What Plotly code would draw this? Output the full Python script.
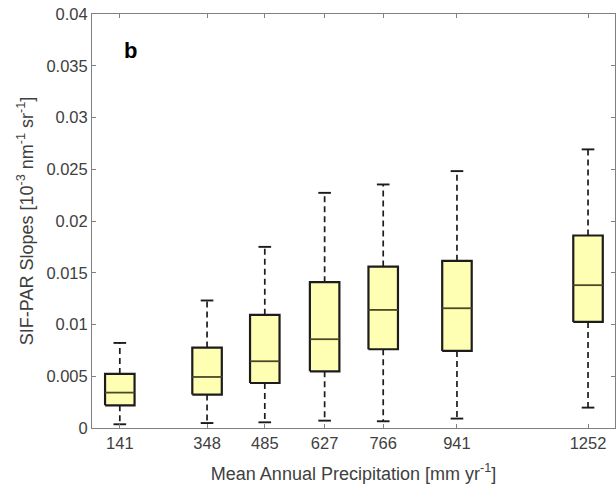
import plotly.graph_objects as go

# Data
precip = [141, 348, 485, 627, 766, 941, 1252]
lower_whisker = [0.00036, 0.00048, 0.00055, 0.00071, 0.00065, 0.00091, 0.00197]
q1 = [0.00219, 0.00323, 0.00435, 0.00548, 0.00761, 0.00745, 0.01025]
median = [0.00342, 0.00493, 0.00645, 0.00858, 0.01141, 0.01157, 0.01380]
q3 = [0.00522, 0.00777, 0.01093, 0.01409, 0.01560, 0.01615, 0.01860]
upper_whisker = [0.00822, 0.01232, 0.01750, 0.02272, 0.02353, 0.02482, 0.02692]

y_ticks = [0, 0.005, 0.01, 0.015, 0.02, 0.025, 0.03, 0.035, 0.04]
y_ticktext = ["0", "0.005", "0.01", "0.015", "0.02", "0.025", "0.03", "0.035", "0.04"]
x_ticktext = [str(p) for p in precip]

BOX_HALF = 35
CAP_HALF = 15
FONT = "Liberation Sans, Arial, sans-serif"
TXT = "#404040"
EDGE = "#1c1c1c"
MED = "#4a4a28"
FILL = "#ffffb4"
FS_TICK = 16.5
FS_TITLE = 18

fig = go.Figure()

for i, x in enumerate(precip):
    # whiskers (dashed)
    fig.add_trace(go.Scatter(
        x=[x, x, None, x, x],
        y=[q3[i], upper_whisker[i], None, q1[i], lower_whisker[i]],
        mode="lines", line=dict(color=EDGE, width=1.7, dash="6px,4px"),
        hoverinfo="skip", showlegend=False))
    # caps
    fig.add_trace(go.Scatter(
        x=[x - CAP_HALF, x + CAP_HALF, None, x - CAP_HALF, x + CAP_HALF],
        y=[upper_whisker[i], upper_whisker[i], None, lower_whisker[i], lower_whisker[i]],
        mode="lines", line=dict(color=EDGE, width=1.9),
        hoverinfo="skip", showlegend=False))
    # box
    fig.add_trace(go.Scatter(
        x=[x - BOX_HALF, x + BOX_HALF, x + BOX_HALF, x - BOX_HALF, x - BOX_HALF],
        y=[q1[i], q1[i], q3[i], q3[i], q1[i]],
        mode="lines", fill="toself", fillcolor=FILL,
        line=dict(color=EDGE, width=2.2),
        hoverinfo="skip", showlegend=False))
    # median
    fig.add_trace(go.Scatter(
        x=[x - BOX_HALF, x + BOX_HALF], y=[median[i], median[i]],
        mode="lines", line=dict(color=MED, width=1.8),
        hoverinfo="skip", showlegend=False))

fig.add_annotation(x=0.073, y=0.913, xref="paper", yref="paper", text="<b>b</b>",
                   showarrow=False, font=dict(family=FONT, size=22, color="black"),
                   xanchor="center", yanchor="middle")

axis_common = dict(showline=True, linecolor="#808080", linewidth=1, mirror="ticks",
                   ticks="inside", ticklen=4, tickcolor="#808080", showgrid=False,
                   zeroline=False, tickfont=dict(family=FONT, size=FS_TICK, color=TXT))

fig.update_xaxes(range=[75, 1316], tickvals=precip, ticktext=x_ticktext,
                 title=dict(text="Mean Annual Precipitation [mm yr<sup>-1</sup>]",
                            font=dict(family=FONT, size=FS_TITLE, color=TXT), standoff=16),
                 **axis_common)
fig.update_yaxes(range=[0, 0.04], tickvals=y_ticks, ticktext=y_ticktext,
                 title=dict(text="SIF-PAR Slopes [10<sup>-3</sup> nm<sup>-1</sup> sr<sup>-1</sup>]",
                            font=dict(family=FONT, size=FS_TITLE, color=TXT), standoff=8),
                 **axis_common)

fig.update_layout(width=616, height=491, margin=dict(l=92, r=1, t=14, b=63),
                  plot_bgcolor="white", paper_bgcolor="white", showlegend=False)

fig.write_html("out.html")
